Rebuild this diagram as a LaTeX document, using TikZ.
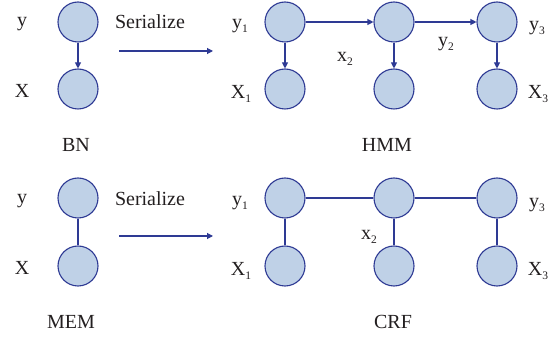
\documentclass[tikz,border=0pt]{standalone}
\usepackage{fontspec}
\setmainfont{Liberation Serif}
\usepackage{tikz}
\usetikzlibrary{arrows.meta,positioning}
\definecolor{nodefill}{HTML}{BFD1E7}
\definecolor{nodeline}{HTML}{2E3A94}
\definecolor{txt}{HTML}{231F20}
\newcommand{\sub}[2]{#1\raisebox{-0.45ex}{\fontsize{11.5}{12}\selectfont #2}}
\tikzset{
	graph model/.style={
		x=1pt, y=-1pt,
		font=\fontsize{20}{23}\selectfont,
		text=txt,
		var/.style={circle, draw=nodeline, fill=nodefill, line width=1.1pt,
			minimum size=40pt, inner sep=0pt},
		lbl/.style={inner sep=0pt},
		dep/.style={draw=nodeline, line width=1.1pt,
			-{Triangle[length=6pt,width=6pt]}},
		link/.style={draw=nodeline, line width=1.1pt}
	}
}

\begin{document}
\begin{tikzpicture}[graph model]
  \useasboundingbox (0,0) rectangle (550,339);
  % BN
  \node[var] (bny) at (78,22) {};
  \node[var] (bnx) at (78,89) {};
  \draw[dep] (bny) -- (bnx);
  \node[lbl] (bnlY) at (22,24) {y};
  \node[lbl] (bnlX) at (22,91) {X};
  \node[lbl] (bn) at (76,145) {BN};
  % serialize
  \node[lbl] (ser1) at (150,22) {Serialize};
  \coordinate (s1a) at (119,51);
  \coordinate (s1b) at (213,51);
  \draw[dep] (s1a) -- (s1b);
  % HMM
  \node[var] (hy1) at (285,22) {};
  \node[var] (hy2) at (394,22) {};
  \node[var] (hy3) at (497,22) {};
  \node[var] (hx1) at (285,89) {};
  \node[var] (hx2) at (394,89) {};
  \node[var] (hx3) at (497,89) {};
  \draw[dep] (hy1) -- (hy2);
  \draw[dep] (hy2) -- (hy3);
  \draw[dep] (hy1) -- (hx1);
  \draw[dep] (hy2) -- (hx2);
  \draw[dep] (hy3) -- (hx3);
  \node[lbl] (hly1) at (240,26) {\sub{y}{1}};
  \node[lbl] (hlx1) at (241,94) {\sub{X}{1}};
  \node[lbl] (hlx2) at (345,59) {\sub{x}{2}};
  \node[lbl] (hly2) at (446,44) {\sub{y}{2}};
  \node[lbl] (hly3) at (537,28) {\sub{y}{3}};
  \node[lbl] (hlx3) at (538,94) {\sub{X}{3}};
  \node[lbl] (hmm) at (387,145) {HMM};
  % MEM
  \node[var] (mey) at (78,198) {};
  \node[var] (mex) at (78,266) {};
  \draw[link] (mey) -- (mex);
  \node[lbl] (melY) at (22,201) {y};
  \node[lbl] (melX) at (22,268) {X};
  \node[lbl] (mem) at (71,322) {MEM};
  % serialize
  \node[lbl] (ser2) at (150,199) {Serialize};
  \coordinate (s2a) at (119,236);
  \coordinate (s2b) at (213,236);
  \draw[dep] (s2a) -- (s2b);
  % CRF
  \node[var] (cy1) at (285,198) {};
  \node[var] (cy2) at (394,198) {};
  \node[var] (cy3) at (497,198) {};
  \node[var] (cx1) at (285,266) {};
  \node[var] (cx2) at (394,266) {};
  \node[var] (cx3) at (497,266) {};
  \draw[link] (cy1) -- (cy2) -- (cy3);
  \draw[link] (cy1) -- (cx1);
  \draw[link] (cy2) -- (cx2);
  \draw[link] (cy3) -- (cx3);
  \node[lbl] (cly1) at (240,203) {\sub{y}{1}};
  \node[lbl] (clx1) at (241,271) {\sub{X}{1}};
  \node[lbl] (clx2) at (369,237) {\sub{x}{2}};
  \node[lbl] (cly3) at (537,205) {\sub{y}{3}};
  \node[lbl] (clx3) at (538,271) {\sub{X}{3}};
  \node[lbl] (crf) at (393,322) {CRF};
\end{tikzpicture}
\end{document}
